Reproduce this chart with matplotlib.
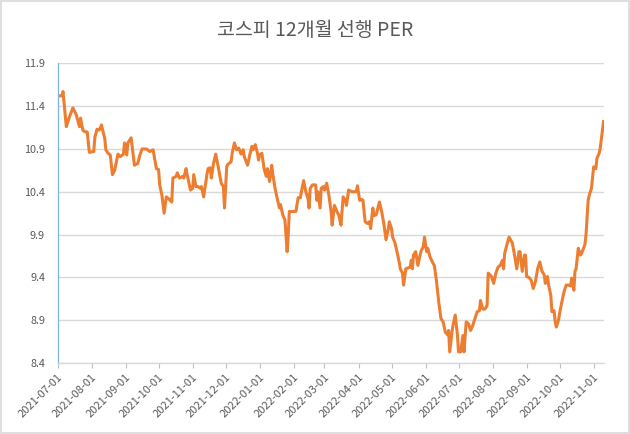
import matplotlib
matplotlib.use("Agg")
import matplotlib.pyplot as plt
import pandas as pd
from matplotlib.patches import Rectangle

title = "코스피 12개월 선행 PER"
start_date = "2021-07-01"

# days after 2021-07-01
day_offsets = [
    0, 4, 5, 8, 11, 14, 17, 20, 21, 23, 25, 27, 29, 33, 34, 36, 38, 40, 43, 44,
    46, 48, 50, 52, 55, 57, 60, 61, 63, 64, 67, 70, 73, 75, 77, 81, 84,
    87, 90, 92, 93, 95, 97, 99, 101, 104, 105, 108, 109, 111, 114, 115, 117, 118, 121, 123, 124,
    126, 128, 130, 131, 133, 136, 137, 139, 140, 142, 144, 146, 149, 151, 152, 154, 155, 158, 159, 161,
    163, 165, 167, 169, 170, 173, 175, 177, 178, 180, 182, 183, 184, 186, 188, 190, 191, 193, 195, 196,
    198, 200, 202, 203, 205, 207, 208, 209, 210, 211, 214, 217, 219, 221, 222, 224, 226, 228, 229, 230,
    232, 235, 236, 237, 239, 240, 242, 243, 245,
    247, 249, 250, 252, 255, 256, 258, 260, 262, 263, 265, 268, 270, 272, 273, 275, 277, 278, 280, 282,
    284, 285, 287, 288, 290, 292, 293, 295, 297, 299, 301, 302, 304, 305, 307, 309, 311, 312, 314, 315,
    317, 319, 321, 322, 323, 324, 326, 328, 330,
    331, 333, 334, 336, 337, 339, 342, 343, 345, 347, 349, 351, 353, 355, 356, 357, 359, 360, 362, 364,
    365, 367, 369, 370, 372, 374, 376, 378, 380, 382, 384, 385, 387, 389, 391, 392, 395, 397, 399, 401,
    403, 405, 406, 407, 409, 411,
    414, 416, 418, 420, 421, 423, 425, 426, 427, 429, 431, 433, 435, 437, 439, 441, 443, 444, 446, 447,
    449, 450, 452, 453, 454, 456, 457, 459, 461, 463, 465, 467, 468, 470, 471, 472, 474, 476, 477, 480,
    481, 483, 484, 486, 488, 490, 491, 493, 494, 497,
]

per_values = [
    11.52, 11.52, 11.57, 11.16, 11.28, 11.38, 11.30, 11.16, 11.26, 11.12, 11.10, 11.10, 10.86, 10.87, 11.04, 11.13, 11.12, 11.18, 11.02, 10.89,
    10.85, 10.83, 10.60, 10.65, 10.84, 10.81, 10.84, 10.97, 10.83, 10.97, 11.03, 10.71, 10.73, 10.83, 10.90, 10.90, 10.87,
    10.89, 10.67, 10.66, 10.48, 10.36, 10.15, 10.34, 10.32, 10.28, 10.56, 10.58, 10.62, 10.56, 10.58, 10.56, 10.67, 10.60, 10.42, 10.44, 10.60,
    10.46, 10.46, 10.44, 10.46, 10.34, 10.60, 10.67, 10.68, 10.56, 10.73, 10.84, 10.71, 10.50, 10.46, 10.21, 10.69, 10.72, 10.75, 10.85, 10.97,
    10.89, 10.91, 10.84, 10.89, 10.81, 10.71, 10.83, 10.93, 10.89, 10.95, 10.85, 10.77, 10.83, 10.85, 10.67, 10.58, 10.67, 10.52, 10.71, 10.60,
    10.44, 10.32, 10.21, 10.25, 10.13, 10.07, 9.89, 9.70, 9.89, 10.17, 10.17, 10.17, 10.33, 10.33, 10.40, 10.53, 10.40, 10.32, 10.21, 10.44,
    10.48, 10.48, 10.30, 10.40, 10.21, 10.44, 10.46, 10.42, 10.50,
    10.36, 10.17, 10.01, 10.24, 10.15, 10.13, 10.01, 10.34, 10.30, 10.24, 10.42, 10.40, 10.40, 10.40, 10.47, 10.30, 10.31, 10.30, 10.05, 10.03,
    10.05, 9.97, 10.21, 10.12, 10.13, 10.23, 10.28, 10.17, 10.03, 9.84, 9.96, 10.05, 9.97, 9.87, 9.81, 9.70, 9.58, 9.50, 9.45, 9.31,
    9.50, 9.51, 9.52, 9.60, 9.50, 9.66, 9.70, 9.54, 9.66,
    9.71, 9.76, 9.87, 9.70, 9.74, 9.64, 9.56, 9.54, 9.35, 9.11, 8.92, 8.88, 8.76, 8.73, 8.78, 8.53, 8.76, 8.84, 8.96, 8.73,
    8.53, 8.53, 8.72, 8.53, 8.88, 8.86, 8.78, 8.84, 8.92, 9.00, 9.01, 9.13, 9.03, 9.03, 9.07, 9.45, 9.41, 9.33, 9.45, 9.52,
    9.54, 9.60, 9.50, 9.68, 9.78, 9.87,
    9.80, 9.66, 9.50, 9.70, 9.70, 9.47, 9.66, 9.66, 9.41, 9.40, 9.37, 9.27, 9.35, 9.50, 9.58, 9.47, 9.43, 9.33, 9.41, 9.31,
    9.19, 9.00, 9.01, 8.88, 8.82, 8.90, 8.98, 9.11, 9.23, 9.31, 9.31, 9.30, 9.39, 9.25, 9.47, 9.50, 9.74, 9.66, 9.68, 9.78,
    9.89, 10.30, 10.36, 10.44, 10.69, 10.67, 10.79, 10.85, 10.91, 11.22,
]

y_ticks = [8.4, 8.9, 9.4, 9.9, 10.4, 10.9, 11.4, 11.9]
x_tick_labels = ["2021-07-01", "2021-08-01", "2021-09-01", "2021-10-01", "2021-11-01",
                 "2021-12-01", "2022-01-01", "2022-02-01", "2022-03-01", "2022-04-01",
                 "2022-05-01", "2022-06-01", "2022-07-01", "2022-08-01", "2022-09-01",
                 "2022-10-01", "2022-11-01"]

dates = pd.Timestamp(start_date) + pd.to_timedelta(day_offsets, unit="D")

plt.rcParams['font.family'] = ['Noto Sans CJK KR', 'DejaVu Sans']

fig = plt.figure(figsize=(6.3, 4.34), dpi=100)
fig.patch.set_facecolor("white")
fig.patches.append(Rectangle((0.002, 0.002), 0.996, 0.996, transform=fig.transFigure,
                             fill=False, edgecolor="#D9D9D9", linewidth=1.2))

ax = fig.add_axes([0.0913, 0.1636, 0.8667, 0.6905])
ax.plot(dates, per_values, color="#ED7D31", linewidth=2.2, solid_joinstyle="round")

ax.set_ylim(8.4, 11.9)
ax.set_yticks(y_ticks)
ax.set_yticklabels([f"{v:.1f}" for v in y_ticks])
ax.set_xlim(pd.Timestamp(start_date), dates[-1])
ax.set_xticks(pd.to_datetime(x_tick_labels))
ax.set_xticklabels(x_tick_labels, rotation=45, ha="right", rotation_mode="anchor")

ax.grid(axis="y", color="#D9D9D9", linewidth=1.0)
ax.set_axisbelow(True)
for s in ["top", "right"]:
    ax.spines[s].set_visible(False)
ax.spines["left"].set_color("#7FB2DE")
ax.spines["left"].set_linewidth(0.9)
ax.spines["bottom"].set_color("#D9D9D9")
ax.spines["bottom"].set_linewidth(1.0)
ax.tick_params(axis="y", length=0, labelsize=7.8, labelcolor="#595959", pad=9)
ax.tick_params(axis="x", length=3.5, color="#BFBFBF", direction="out",
               labelsize=8, labelcolor="#595959", pad=3)

fig.text(0.5, 1 - 31 / 434, title, ha="center", va="center", fontsize=14, color="#595959")

fig.savefig("out.png", dpi=100, facecolor="white")
